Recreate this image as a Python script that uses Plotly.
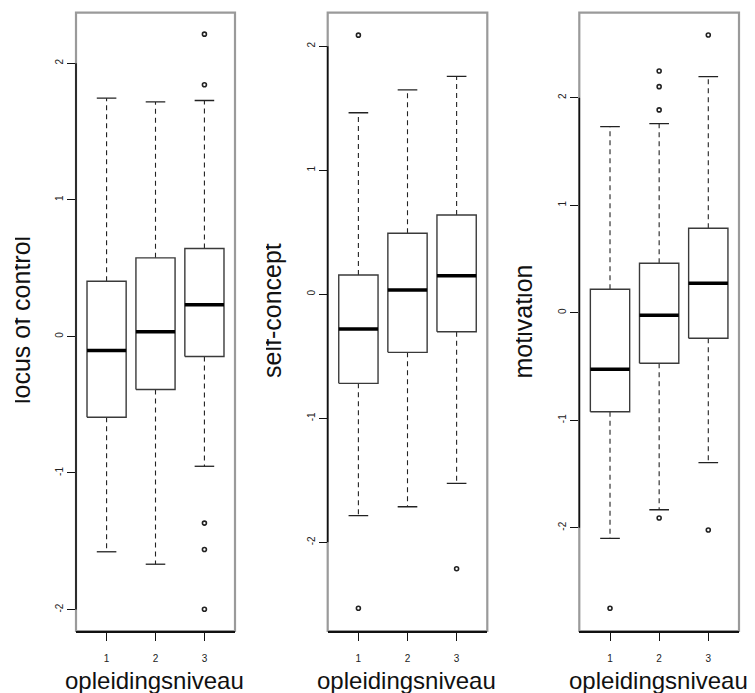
import plotly.graph_objects as go

# ---------------- data ----------------
groups = [1, 2, 3]
group_labels = ["1", "2", "3"]
y_ticks = [-2, -1, 0, 1, 2]
y_tick_labels = ["-2", "-1", "0", "1", "2"]
x_title = "opleidingsniveau"

titles = ["locus of control", "self-concept", "motivation"]

# locus of control
loc_lower = [-1.577, -1.668, -0.951]
loc_q1 = [-0.592, -0.389, -0.147]
loc_median = [-0.103, 0.034, 0.232]
loc_q3 = [0.404, 0.575, 0.643]
loc_upper = [1.744, 1.717, 1.727]
loc_out_x = [3, 3, 3, 3, 3]
loc_out_y = [2.213, 1.842, -1.367, -1.560, -1.998]

# self-concept
self_lower = [-1.785, -1.713, -1.524]
self_q1 = [-0.718, -0.468, -0.302]
self_median = [-0.280, 0.035, 0.150]
self_q3 = [0.156, 0.492, 0.640]
self_upper = [1.464, 1.648, 1.758]
self_out_x = [1, 1, 3]
self_out_y = [2.090, -2.532, -2.213]

# motivation
mot_lower = [-2.099, -1.833, -1.395]
mot_q1 = [-0.921, -0.471, -0.238]
mot_median = [-0.527, -0.024, 0.273]
mot_q3 = [0.218, 0.459, 0.785]
mot_upper = [1.730, 1.758, 2.195]
mot_out_x = [1, 2, 2, 2, 2, 3, 3]
mot_out_y = [-2.750, 2.248, 2.102, 1.886, -1.910, 2.583, -2.021]

panels = [
    (loc_lower, loc_q1, loc_median, loc_q3, loc_upper, loc_out_x, loc_out_y),
    (self_lower, self_q1, self_median, self_q3, self_upper, self_out_x, self_out_y),
    (mot_lower, mot_q1, mot_median, mot_q3, mot_upper, mot_out_x, mot_out_y),
]

# ---------------- layout constants ----------------
OFF = 8                      # page body margin of the html page
W, H = 755 - OFF, 693 - OFF  # figure size so that it fits the window


def px(x):
    return (x - OFF) / W


def py(y):
    return 1 - (y - OFF) / H


x_domains = [(px(76), px(235)), (px(327.7), px(487.3)), (px(579.3), px(739))]
y_domain = (py(631), py(12.7))
y_ranges = [(-2.157, 2.37), (-2.715, 2.271), (-2.961, 2.79)]
x_range = (0.375, 3.625)
half_box = 0.4
half_cap = 0.2
title_baseline_x = [32, 283, 533]
title_center_y = [320, 311, 321.5]
xtitle_center_x = [154, 406, 658]
FONT = "Liberation Sans, Arial, Helvetica, sans-serif"

fig = go.Figure()
layout_axes = {}
shapes = []
annotations = []

for p, (lo, q1, med, q3, up, ox, oy) in enumerate(panels):
    xa = "x" if p == 0 else f"x{p+1}"
    ya = "y" if p == 0 else f"y{p+1}"
    bx, by, mx, my, wx, wy, cx, cy = [], [], [], [], [], [], [], []
    for i, g in enumerate(groups):
        bx += [g - half_box, g + half_box, g + half_box, g - half_box, g - half_box, None]
        by += [q1[i], q1[i], q3[i], q3[i], q1[i], None]
        mx += [g - half_box, g + half_box, None]
        my += [med[i], med[i], None]
        wx += [g, g, None, g, g, None]
        wy += [q3[i], up[i], None, q1[i], lo[i], None]
        cx += [g - half_cap, g + half_cap, None, g - half_cap, g + half_cap, None]
        cy += [up[i], up[i], None, lo[i], lo[i], None]
    fig.add_trace(go.Scatter(x=wx, y=wy, mode="lines", xaxis=xa, yaxis=ya,
                             line=dict(color="#222222", width=1.1, dash="5px,4px"),
                             hoverinfo="skip", showlegend=False))
    fig.add_trace(go.Scatter(x=cx, y=cy, mode="lines", xaxis=xa, yaxis=ya,
                             line=dict(color="#222222", width=1.3),
                             hoverinfo="skip", showlegend=False))
    fig.add_trace(go.Scatter(x=bx, y=by, mode="lines", xaxis=xa, yaxis=ya,
                             line=dict(color="#3a3a3a", width=1.4),
                             hoverinfo="skip", showlegend=False))
    fig.add_trace(go.Scatter(x=mx, y=my, mode="lines", xaxis=xa, yaxis=ya,
                             line=dict(color="#000000", width=3.5),
                             hoverinfo="skip", showlegend=False))
    fig.add_trace(go.Scatter(x=ox, y=oy, mode="markers", xaxis=xa, yaxis=ya,
                             marker=dict(symbol="circle-open", size=4, color="#222222",
                                         line=dict(width=1.6, color="#222222")),
                             hoverinfo="skip", showlegend=False, cliponaxis=False))

    xkey = "xaxis" if p == 0 else f"xaxis{p+1}"
    ykey = "yaxis" if p == 0 else f"yaxis{p+1}"
    layout_axes[xkey] = dict(
        domain=list(x_domains[p]), range=list(x_range), anchor=ya,
        tickmode="array", tickvals=groups, ticktext=group_labels,
        ticks="outside", ticklen=8, tickwidth=1.2, tickcolor="#111111",
        showline=True, linecolor="#111111", linewidth=1.6, mirror=False,
        showgrid=False, zeroline=False, ticklabelstandoff=9,
        tickfont=dict(family=FONT, size=10, color="#222222"),
        fixedrange=True, automargin=False,
    )
    layout_axes[ykey] = dict(
        domain=list(y_domain), range=list(y_ranges[p]), anchor=xa,
        tickmode="array", tickvals=y_ticks, ticktext=y_tick_labels,
        ticks="outside", ticklen=8, tickwidth=1.2, tickcolor="#111111",
        showline=False, showgrid=False, zeroline=False,
        tickangle=-90, ticklabelstandoff=0,
        tickfont=dict(family=FONT, size=10, color="#222222"),
        fixedrange=True, automargin=False,
    )
    xd = "x domain" if p == 0 else f"x{p+1} domain"
    yd = "y domain" if p == 0 else f"y{p+1} domain"
    # grey plot frame
    shapes.append(dict(type="rect", xref=xd, yref=yd, x0=0, x1=1, y0=0, y1=1,
                       line=dict(color="#9a9a9a", width=2.2), layer="below"))
    # black left axis line spanning the tick range
    shapes.append(dict(type="line", xref=xd, yref=ya, x0=0, x1=0,
                       y0=min(y_ticks), y1=max(y_ticks),
                       line=dict(color="#111111", width=1.6), layer="below"))
    # y title (rotated)
    fs = 25
    annotations.append(dict(text=titles[p], textangle=-90, showarrow=False,
                            xref="paper", yref="paper",
                            x=px(title_baseline_x[p] - 11), y=py(title_center_y[p]),
                            xanchor="center", yanchor="middle",
                            font=dict(family=FONT, size=fs, color="#111111")))
    # white strip hiding the tops of the title glyphs (as in the reference)
    clip_x = title_baseline_x[p] - 17
    annotations.append(dict(text=" ", showarrow=False, xref="paper", yref="paper",
                            x=px(clip_x), y=py(title_center_y[p]),
                            xanchor="right", yanchor="middle", width=14, height=220,
                            bgcolor="white", borderpad=0, borderwidth=0,
                            font=dict(size=4)))
    # x title
    annotations.append(dict(text=x_title, showarrow=False, xref="paper", yref="paper",
                            x=px(xtitle_center_x[p]), y=py(680),
                            xanchor="center", yanchor="middle",
                            font=dict(family=FONT, size=24, color="#111111")))

fig.update_layout(
    width=W, height=H,
    margin=dict(l=0, r=0, t=0, b=0, pad=0, autoexpand=False),
    paper_bgcolor="white", plot_bgcolor="white",
    showlegend=False,
    shapes=shapes, annotations=annotations,
    **layout_axes,
)

fig.write_html("out.html")
